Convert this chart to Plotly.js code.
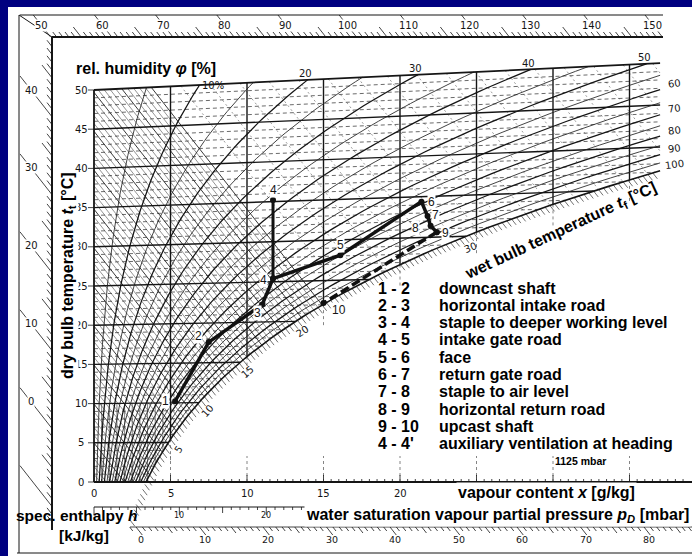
<!DOCTYPE html>
<html>
<head>
<meta charset="utf-8">
<script src="https://cdn.plot.ly/plotly-3.0.1.min.js"></script>
<style>
html,body{margin:0;padding:0;background:#000080;overflow:hidden;}
#chart{width:692px;height:556px;}
</style>
</head>
<body>
<div id="chart"></div>
<script>
// ================= chart values (h,x-diagram at 1125 mbar) =================
const PRESSURE_MBAR = 1125;
const TOP_ISOTHERM_C = 50;
const X_MAX_GKG = 37;
const ISOTHERMS_MAJOR_C = [5, 10, 15, 20, 25, 30, 35, 40, 45];
const X_GRID_MAJOR = [5, 10, 15, 20, 25, 30, 35];
const X_GRID_FINE = [0.5, 1, 1.5, 2, 2.5, 3, 3.5, 4, 4.5];
const RH_LEVELS = [5, 10, 15, 20, 25, 30, 35, 40, 45, 50, 55, 60, 65, 70, 75, 80, 85, 90, 95, 100];
const RH_MAJOR = [10, 20, 30, 40, 50, 60, 70, 80, 90, 100];
const T_AXIS_TICKS = [0, 5, 10, 15, 20, 25, 30, 35, 40, 45, 50];
const X_AXIS_TICKS = [0, 5, 10, 15, 20];
const RH_TOP_LABELS = [10, 20, 30, 40, 50];
const RH_TOP_TEXT = ['10%', '20', '30', '40', '50'];
const RH_RIGHT_LABELS = [60, 70, 80, 90, 100];
const WET_BULB_LABELS = [5, 10, 15, 20, 30];
const H_LEFT_LABELS = [0, 10, 20, 30, 40];
const H_TOP_LABELS = [50, 60, 70, 80, 90, 100, 110, 120, 130, 140, 150];
const H_BOTTOM_LABELS = [0, 10, 20, 30, 40, 50, 60, 70, 80];
const P_LABELS = [10, 20];

// process states: vapour content x [g/kg], dry bulb temperature t [°C]
const STATE_NAMES = ['1', '2', '3', '4', '5', '6', '7', '8', '9', '10'];
const STATE_X = [5.3, 7.5, 11.0, 11.7, 16.1, 21.4, 21.8, 22.0, 22.4, 15.0];
const STATE_T = [10.2, 17.6, 22.2, 25.4, 28.1, 34.4, 32.6, 31.4, 30.6, 22.2];
const AUX_NAMES = ['4', "4'"];
const AUX_X = [11.7, 11.7];
const AUX_T = [25.4, 35.2];

const LEGEND_STEPS = ['1 - 2', '2 - 3', '3 - 4', '4 - 5', '5 - 6', '6 - 7', '7 - 8', '8 - 9', '9 - 10', "4 - 4'"];
const LEGEND_TEXT = ['downcast shaft', 'horizontal intake road', 'staple to deeper working level',
  'intake gate road', 'face', 'return gate road', 'staple to air level',
  'horizontal return road', 'upcast shaft', 'auxiliary ventilation at heading'];

// ================= layout geometry =================
const W = 692, H = 556, ML = 8, MT = 7;
const PX0 = 94, PXS = 15.3, PY0 = 482, PYS = 7.84;   // x=0 / Y=0 pixel and scale
const HB0 = 136, HBS = 6.35;                          // bottom enthalpy rim scale
const dx = p => (p - PX0) / PXS;
const dy = p => (PY0 - p) / PYS;
const FS = 'DejaVu Sans, Liberation Sans, sans-serif';
const FB = 'Liberation Sans, Arial, sans-serif';
const INK = '#151515';

function range(a, b, s) { const r = []; for (let v = a; v <= b + 1e-9; v += s) r.push(+v.toFixed(4)); return r; }

// psychrometric geometry of the Mollier chart
function ps(t) { return 6.112 * Math.exp(17.62 * t / (243.12 + t)); }
function xSat(t, phi) { const p = phi * ps(t); return 622 * p / (PRESSURE_MBAR - p); }
function Yt(t, x) { return t * (1 + 0.001849 * x); }
function Yh(h, x) { return (h - 2.501 * x) / 1.006; }
function bisect(f, a, b) {
  let fa = f(a);
  for (let i = 0; i < 80; i++) { const m = (a + b) / 2, fm = f(m); if ((fm > 0) === (fa > 0)) { a = m; fa = fm; } else b = m; }
  return (a + b) / 2;
}
function tSatAtX(x) { return bisect(t => xSat(t, 1) - x, -30, 80); }

function newSet() { return { x: [], y: [] }; }
function addSeg(s, xs, ys) { s.x.push(...xs, null); s.y.push(...ys, null); }
function pxLine(s, pts) { addSeg(s, pts.map(p => dx(p[0])), pts.map(p => dy(p[1]))); }

const traces = [];
function tr(s, color, width, dash, xaxis) {
  traces.push({ type: 'scatter', mode: 'lines', x: s.x, y: s.y, xaxis: xaxis || 'x', yaxis: 'y',
    line: { color: color, width: width, dash: dash || 'solid' }, hoverinfo: 'skip', showlegend: false, connectgaps: false });
}

// ---------- isenthalps ----------
const hFine = newSet(), hMajor = newSet(), hUpper = newSet(), hStub = newSet();
function hLine(h, set) {
  let xa = Math.max(0, (h - 1.006 * TOP_ISOTHERM_C) / (2.501 + 1.006 * TOP_ISOTHERM_C * 0.001849));
  let xb = Math.min(h / 2.501, X_MAX_GKG);
  const tInt = bisect(t => (h - 1.006 * t) / (2.501 + 0.00186 * t) - xSat(t, 1), -40, 80);
  const xInt = (h - 1.006 * tInt) / (2.501 + 0.00186 * tInt);
  if (xInt < xb) xb = xInt;
  if (set && xb > xa) addSeg(set, [xa, xb], [Yh(h, xa), Yh(h, xb)]);
  return xInt;
}
range(1, 60, 1).forEach(h => { if (h % 5) hLine(h, hFine); });
range(5, 60, 5).forEach(h => hLine(h, hMajor));
range(65, 145, 5).forEach(h => hLine(h, hUpper));
range(1, 150, 1).forEach(h => {
  const xi = hLine(h, null);
  if (xi > 0 && xi < X_MAX_GKG - 0.2) addSeg(hStub, [xi, xi + 0.3], [Yh(h, xi), Yh(h, xi + 0.3)]);
});

// ---------- isotherms ----------
const isoMin = newSet(), isoMaj = newSet(), bound = newSet();
range(1, 49, 1).forEach(t => {
  const xe = Math.min(xSat(t, 1), X_MAX_GKG);
  addSeg(ISOTHERMS_MAJOR_C.includes(t) ? isoMaj : isoMin, [0, xe], [Yt(t, 0), Yt(t, xe)]);
});
addSeg(bound, [0, X_MAX_GKG], [Yt(TOP_ISOTHERM_C, 0), Yt(TOP_ISOTHERM_C, X_MAX_GKG)]);
addSeg(bound, [0, 0], [0, TOP_ISOTHERM_C]);
addSeg(bound, [0, dx(W)], [0, 0]);

// ---------- verticals x = const ----------
const vMaj = newSet(), vFog = newSet(), vFine = newSet();
X_GRID_MAJOR.forEach(xv => {
  const yb = Yt(tSatAtX(xv), xv);
  addSeg(vMaj, [xv, xv], [yb, Yt(TOP_ISOTHERM_C, xv)]);
  addSeg(vFog, [xv, xv], [yb, yb - 22 / PYS]);
  addSeg(vFog, [xv, xv], [0, 26 / PYS]);
});
X_GRID_FINE.forEach(xv => {
  const yb = Math.max(0, Yt(tSatAtX(xv), xv));
  if (yb < 10) addSeg(vFine, [xv, xv], [yb, 10]);
});

// ---------- relative humidity curves ----------
const rhMaj = newSet(), rhMin = newSet(), satSet = newSet();
const rhEnd = {};
RH_LEVELS.forEach(rh => {
  const phi = rh / 100, xs = [], ys = [];
  for (let t = 0; t <= TOP_ISOTHERM_C + 1e-9; t += 0.5) {
    const x = xSat(t, phi);
    if (x > X_MAX_GKG) {
      const tc = bisect(tt => xSat(tt, phi) - X_MAX_GKG, t - 0.5, t);
      xs.push(X_MAX_GKG); ys.push(Yt(tc, X_MAX_GKG)); break;
    }
    xs.push(x); ys.push(Yt(t, x));
  }
  rhEnd[rh] = [xs[xs.length - 1], ys[ys.length - 1]];
  addSeg(rh === 100 ? satSet : (RH_MAJOR.includes(rh) ? rhMaj : rhMin), xs, ys);
});

// ---------- rim scales ----------
const frameThin = newSet(), frameThick = newSet(), ticks = newSet(), ticks2 = newSet();
pxLine(frameThin, [[20, 15], [663, 15]]);
pxLine(frameThick, [[52, 37], [663, 37]]);
pxLine(frameThin, [[19, 15], [19, 553]]);
pxLine(frameThick, [[52, 37], [52, 530]]);
pxLine(frameThin, [[19, 15], [52, 37]]);
pxLine(frameThin, [[17, 553], [692, 553]]);

// top enthalpy rim (isenthalp direction ticks)
const YS = dy(37), YO = dy(15);
const xAtH = (h, Y) => (h - 1.006 * Y) / 2.501;
range(50, 150, 1).forEach(h => {
  const len = h % 10 === 0 ? (YO - YS) : (h % 5 === 0 ? 10 / PYS : 5 / PYS);
  addSeg(ticks, [xAtH(h, YS), xAtH(h, YS + len)], [YS, YS + len]);
});
// left enthalpy rim
const XS = dx(52), XO = dx(20);
range(-12, 49, 1).forEach(h => {
  const len = h % 10 === 0 ? (XS - XO) : (h % 5 === 0 ? 10 / PXS : 5 / PXS);
  const y1 = Yh(h, XS), y2 = Yh(h, XS - len);
  if (y1 > dy(530) && y1 < YS) addSeg(ticks, [XS, XS - len], [y1, y2]);
});
// x axis ticks
range(0, 38.5, 0.5).forEach(x => {
  const len = x % 5 === 0 ? 7 : 3;
  addSeg(ticks, [x, x], [0, len / PYS]);
});
// left temperature ticks
T_AXIS_TICKS.forEach(t => addSeg(ticks, [0, -6 / PXS], [t, t]));
// vapour pressure scale
const YP = dy(507);
addSeg(frameThin, [0, 16.3], [YP, YP]);
range(0, 28, 1).forEach(p => {
  const x = 622 * p / (PRESSURE_MBAR - p);
  const len = p % 10 === 0 ? 8 : (p % 5 === 0 ? 6 : 3);
  addSeg(ticks, [x, x], [YP, YP - len / PYS]);
});
// bottom enthalpy rim (own linear scale on xaxis2)
const YB = dy(527);
addSeg(ticks2, [(130 - HB0) / HBS, (W - HB0) / HBS], [YB, YB]);
range(-1, 87, 1).forEach(h => {
  const len = h % 10 === 0 ? 8 : (h % 5 === 0 ? 6 : 4);
  addSeg(ticks2, [h, h + len / 1.274 / HBS], [YB, YB - len / PYS]);
});

// ---------- draw order ----------
tr(hFine, '#3a3a3a', 0.55);
tr(hUpper, '#555', 0.6, '2px,3px');
tr(hMajor, '#222', 0.9);
tr(hStub, '#333', 0.7);
tr(isoMin, '#2a2a2a', 0.7, '4px,3px');
tr(vFine, '#333', 0.6);
tr(vFog, '#666', 0.8, 'dot');
tr(isoMaj, INK, 1.4);
tr(vMaj, INK, 1.4);
tr(rhMin, '#222', 0.85);
tr(rhMaj, INK, 1.25);
tr(satSet, INK, 1.6);
tr(bound, INK, 1.8);
tr(frameThin, INK, 1.0);
tr(frameThick, INK, 2.0);
tr(ticks, INK, 0.8);
tr(ticks2, INK, 0.8, 'solid', 'x2');

// process path
const PY = STATE_T.map((t, i) => Yt(t, STATE_X[i]));
const AY = AUX_T.map((t, i) => Yt(t, AUX_X[i]));
traces.push({ type: 'scatter', mode: 'lines+markers', x: STATE_X.slice(0, 9), y: PY.slice(0, 9),
  line: { color: '#111', width: 3.5 }, marker: { color: '#111', size: 6 }, hoverinfo: 'skip', showlegend: false });
traces.push({ type: 'scatter', mode: 'lines+markers', x: STATE_X.slice(8, 10), y: PY.slice(8, 10),
  line: { color: '#111', width: 3.5, dash: '9px,4px' }, marker: { color: '#111', size: 6 }, hoverinfo: 'skip', showlegend: false });
traces.push({ type: 'scatter', mode: 'lines+markers', x: AUX_X, y: AY,
  line: { color: '#111', width: 3 }, marker: { color: '#111', size: 6 }, hoverinfo: 'skip', showlegend: false });

// ---------- texts ----------
const ann = [];
function txt(x, y, text, o) {
  ann.push(Object.assign({ x: x, y: y, xref: 'x', yref: 'y', text: text, showarrow: false,
    font: { family: FS, size: 10, color: INK } }, o || {}));
}
function ptxt(px, py, text, o) { txt(dx(px), dy(py), text, o); }

// rim labels
H_TOP_LABELS.forEach(h => { const Y = dy(25); txt(xAtH(h, Y), Y, String(h), { bgcolor: 'white', borderpad: 0 }); });
H_LEFT_LABELS.forEach(h => { const x = dx(31); txt(x, Yh(h, x), String(h), { bgcolor: 'white', borderpad: 0 }); });
H_BOTTOM_LABELS.forEach(h => ann.push({ x: h + 5 / HBS, y: dy(539), xref: 'x2', yref: 'y', text: String(h),
  showarrow: false, font: { family: FS, size: 9.5, color: INK } }));
P_LABELS.forEach(p => txt(622 * p / (PRESSURE_MBAR - p), dy(515), String(p), { font: { family: FS, size: 8, color: INK } }));
T_AXIS_TICKS.forEach(t => txt(dx(81), t, String(t)));
X_AXIS_TICKS.forEach(x => txt(x, dy(493), String(x)));
RH_TOP_LABELS.forEach((rh, i) => {
  const x = xSat(TOP_ISOTHERM_C, rh / 100);
  txt(x, Yt(TOP_ISOTHERM_C, x), RH_TOP_TEXT[i], { xshift: i === 0 ? 13 : -2, yshift: i === 0 ? 0 : 6 });
});
RH_RIGHT_LABELS.forEach(rh => txt(rhEnd[rh][0], rhEnd[rh][1], String(rh), { xshift: 14, yshift: 6, textangle: -8 }));
WET_BULB_LABELS.forEach(t => {
  const x1 = xSat(t - 0.5, 1), x2 = xSat(t + 0.5, 1);
  const ddx = (x2 - x1) * PXS, ddy = -(Yt(t + 0.5, x2) - Yt(t - 0.5, x1)) * PYS;
  const L = Math.hypot(ddx, ddy), a = ddx / L, b = ddy / L;
  const ang = Math.atan2(ddy, ddx) * 180 / Math.PI;
  const x = xSat(t, 1);
  txt(x, Yt(t, x), String(t), { textangle: ang, xshift: -b * 12, yshift: -a * 12 });
});

// state labels
const STATE_SHIFT = [[-10, 0], [-10, 6], [-5, -9], [-10, -1], [0, 10], [10, 0], [8, 1], [-15, -2], [9, -1], [15, -7]];
STATE_NAMES.forEach((n, i) => txt(STATE_X[i], PY[i], n, { xshift: STATE_SHIFT[i][0], yshift: STATE_SHIFT[i][1],
  bgcolor: 'white', borderpad: 0, font: { family: FB, size: 12, color: INK } }));
txt(AUX_X[1], AY[1], AUX_NAMES[0], { yshift: 10, bgcolor: 'white', borderpad: 0, font: { family: FB, size: 12, color: INK } });

// titles
const BF = { family: FB, size: 16, color: '#000' };
ptxt(146, 68, '<b>rel. humidity <i>φ</i> [%]</b>', { font: BF });
ptxt(68, 276, '<b>dry bulb temperature <i>t</i><sub>t</sub> [°C]</b>', { font: BF, textangle: -90, bgcolor: 'white', borderpad: 0 });
ptxt(560, 231, '<b>wet bulb temperature <i>t</i><sub>f</sub> [°C]</b>', { font: BF, textangle: -25 });
ptxt(546, 492, '<b>vapour content <i>x</i> [g/kg]</b>', { font: BF, bgcolor: 'white', borderpad: 1 });
ptxt(691, 515, '<b>water saturation vapour partial pressure <i>p</i><sub><i>D</i></sub> [mbar]</b>', { font: BF, xanchor: 'right', bgcolor: 'white', borderpad: 1 });
ptxt(14, 515, '<b>spec. enthalpy <i>h</i></b>', { font: { family: FB, size: 15.5, color: '#000' }, xanchor: 'left' });
ptxt(84, 535, '<b>[kJ/kg]</b>', { font: { family: FB, size: 15.5, color: '#000' } });
ptxt(580, 461, '<b>1125 mbar</b>', { font: { family: FB, size: 10.5, color: '#000' } });
LEGEND_STEPS.forEach((s, i) => {
  const py = 288 + i * 17.33;
  ptxt(376, py, '<b>' + s + '</b>', { font: BF, xanchor: 'left' });
  ptxt(437, py, '<b>' + LEGEND_TEXT[i] + '</b>', { font: BF, xanchor: 'left' });
});

const layout = {
  width: W, height: H,
  margin: { l: ML, r: 0, t: MT, b: 0, pad: 0 },
  paper_bgcolor: '#000080', plot_bgcolor: '#ffffff',
  showlegend: false,
  xaxis: { range: [dx(ML), dx(W)], visible: false, fixedrange: true },
  xaxis2: { range: [(ML - HB0) / HBS, (W - HB0) / HBS], overlaying: 'x', visible: false, fixedrange: true },
  yaxis: { range: [dy(H), dy(MT)], visible: false, fixedrange: true },
  annotations: ann
};
Plotly.newPlot('chart', traces, layout, { staticPlot: true, displayModeBar: false });
</script>
</body>
</html>
